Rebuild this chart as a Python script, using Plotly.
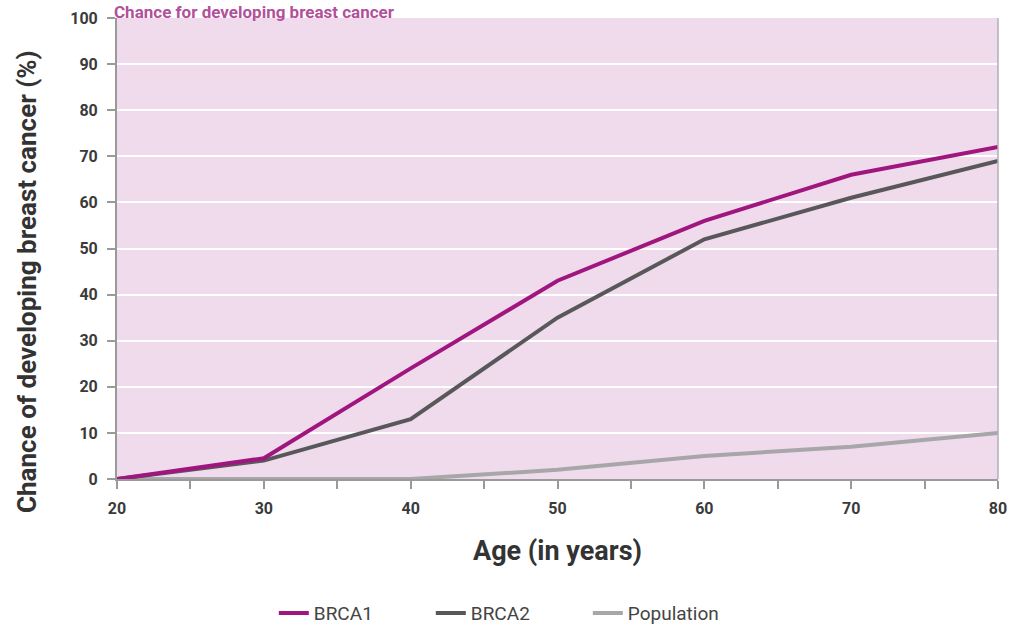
import plotly.graph_objects as go

ages = [20, 30, 40, 50, 60, 70, 80]
brca1 = [0, 4.5, 24, 43, 56, 66, 72]
brca2 = [0, 4, 13, 35, 52, 61, 69]
population = [0, 0, 0, 2, 5, 7, 10]

x_ticks = [20, 30, 40, 50, 60, 70, 80]
y_ticks = [0, 10, 20, 30, 40, 50, 60, 70, 80, 90, 100]

FONT = "Roboto, sans-serif"
TXT = "#3a3a3a"

fig = go.Figure()
fig.add_trace(go.Scatter(x=ages, y=population, name="Population", mode="lines",
                         line=dict(color="#a7a7a9", width=4)))
fig.add_trace(go.Scatter(x=ages, y=brca2, name="BRCA2", mode="lines",
                         line=dict(color="#58585a", width=4)))
fig.add_trace(go.Scatter(x=ages, y=brca1, name="BRCA1", mode="lines",
                         line=dict(color="#a0167f", width=4)))

fig.update_layout(
    width=1013, height=633,
    margin=dict(l=117, r=15, t=18, b=154, autoexpand=False),
    paper_bgcolor="white",
    plot_bgcolor="#f0dbec",
    font=dict(family=FONT, color=TXT, size=14),
    showlegend=True,
    legend=dict(orientation="h", x=0.178, xanchor="left", y=-0.332, yanchor="bottom",
                traceorder="reversed", font=dict(size=19, color="#444", family=FONT),
                entrywidthmode="pixels", entrywidth=112),
    xaxis=dict(range=[20, 80], tickvals=x_ticks, showgrid=False, zeroline=False,
               automargin=False,
               showline=True, linecolor="#9a9a9a", linewidth=2,
               ticks="outside", ticklen=8, tickcolor="#9a9a9a", tickwidth=1.5,
               minor=dict(dtick=5, ticks="outside", ticklen=8, tickcolor="#9a9a9a", tickwidth=1.5),
               tickfont=dict(size=16, color=TXT, family=FONT, weight="bold"), ticklabelstandoff=6,
               title=dict(text="Age (in years)", font=dict(size=27, color="#333", family=FONT, weight="bold"),
                          standoff=24)),
    yaxis=dict(range=[0, 100], tickvals=y_ticks, showgrid=True, gridcolor="white", gridwidth=1.5,
               automargin=False,
               zeroline=False, showline=True, linecolor="#9a9a9a", linewidth=2,
               ticks="outside", ticklen=8, tickcolor="#9a9a9a", tickwidth=1.5,
               tickfont=dict(size=16, color=TXT, family=FONT, weight="bold"), ticklabelstandoff=6),
)

fig.add_annotation(text="Chance of developing breast cancer (%)", xref="paper", yref="paper",
                   x=-0.1022, y=0.4295, xanchor="center", yanchor="middle", textangle=-90,
                   showarrow=False, font=dict(size=26, color="#333", family=FONT, weight="bold"))

fig.add_shape(type="line", xref="paper", yref="paper", x0=1, x1=1, y0=0, y1=1,
              line=dict(color="#b0b0b0", width=1.5))

fig.add_annotation(text="Chance for developing breast cancer", xref="paper", yref="paper",
                   x=-0.006, y=1.0, yshift=18, xanchor="left", yanchor="top", showarrow=False,
                   font=dict(size=17, color="#b3509b", family=FONT, weight="bold"))

fig.write_html("out.html", config={"displayModeBar": False},
               post_script="document.body.style.margin='0';document.body.style.overflow='hidden';")
